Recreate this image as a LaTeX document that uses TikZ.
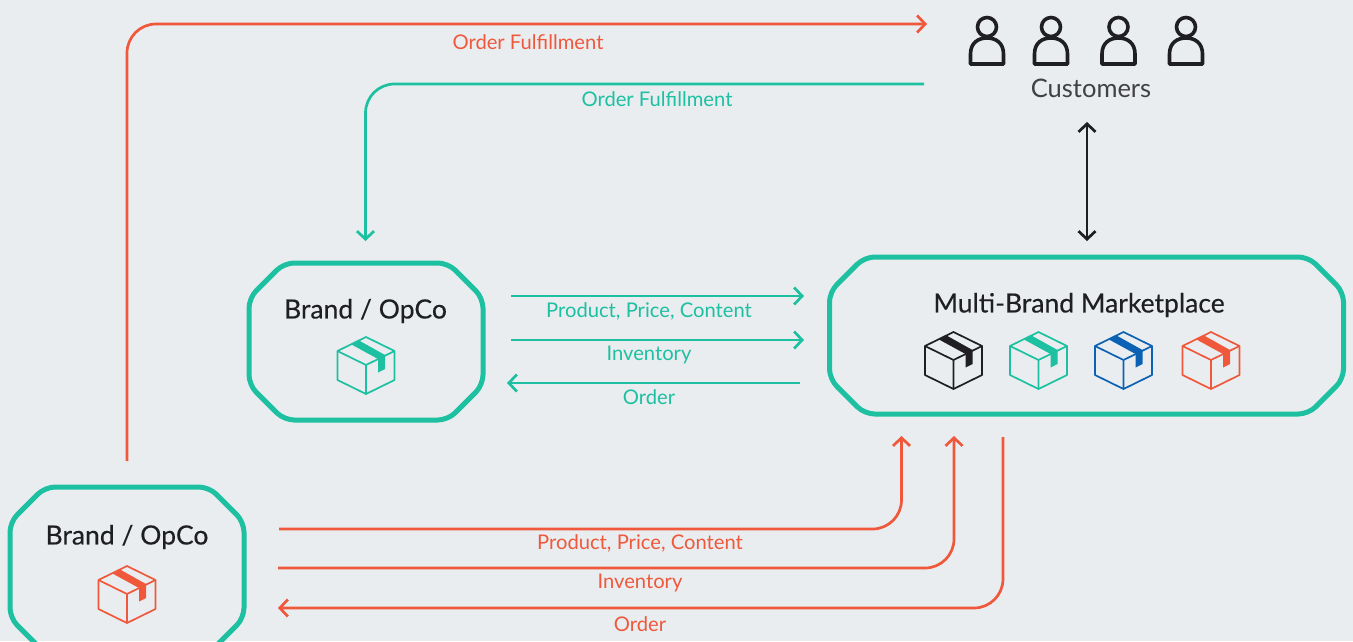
\documentclass[tikz,border=0pt]{standalone}
\usepackage{fontspec}
\setmainfont{Lato}
\newfontfamily\titlefont[FakeBold=0.3]{Lato}
\usetikzlibrary{arrows.meta,calc}

\definecolor{pagegrey}{HTML}{E9EDF0}
\definecolor{brandteal}{HTML}{1DC0A0}
\definecolor{brandred}{HTML}{F0583C}
\definecolor{brandblue}{HTML}{0B62B4}
\definecolor{brandblack}{HTML}{1F1F23}

\tikzset{
	opentip/.tip={Straight Barb[length=8pt,width=17pt,line width=2.7pt]},
	flow/.style={line width=2.7pt,rounded corners=29pt,-{opentip}},
	flowlabel/.style={font=\fontsize{20.2}{24}\selectfont,inner sep=0pt,anchor=center},
	panel/.style={rectangle,outer sep=0pt,inner sep=0pt},
	paneloutline/.style={draw=brandteal,line width=5pt,rounded corners=10pt},
	paneltitle/.style={font=\titlefont\fontsize{26.5}{32}\selectfont,text=brandblack,inner sep=0pt,anchor=center},
}

\begin{document}
\begin{tikzpicture}[x=1pt,y=-1pt]
	\useasboundingbox[fill=pagegrey] (0,0) rectangle (1353,641);

	% panels
	\node[panel,minimum width=234pt,minimum height=157pt] (brandone) at (366,341.5) {};
	\node[panel,minimum width=234pt,minimum height=166pt] (brandtwo) at (127,570) {};
	\node[panel,minimum width=514pt,minimum height=157pt] (market) at (1086.5,335.5) {};

	\foreach \n in {brandone,brandtwo,market}{
		\draw[paneloutline] ($(\n.north west)+(35,0)$) -- ($(\n.north east)+(-35,0)$) -- ($(\n.north east)+(0,35)$) -- ($(\n.south east)+(0,-35)$) -- ($(\n.south east)+(-35,0)$) -- ($(\n.south west)+(35,0)$) -- ($(\n.south west)+(0,-35)$) -- ($(\n.north west)+(0,35)$) -- cycle;
	}

	\node[paneltitle] (brandonetitle) at (365.5,311) {Brand / OpCo};
	\node[paneltitle] (brandtwotitle) at (127,537) {Brand / OpCo};
	\node[paneltitle] (markettitle) at (1079,305) {Multi-Brand Marketplace};

	% parcels
	\foreach \x/\y/\c in {953.5/332/brandblack,1038.5/332/brandteal,1123.5/332/brandblue,1211/332/brandred,366/337/brandteal,127/566/brandred}{
		\begin{scope}[shift={(\x,\y)}]
			\draw[\c,line width=1.7pt,line join=round] (0,0) -- (28.5,14) -- (28.5,43) -- (0,57) -- (-28.5,43) -- (-28.5,14) -- cycle;
			\draw[\c,line width=1.7pt,line join=round] (-28.5,14) -- (0,28) -- (28.5,14) (0,28) -- (0,57);
			\fill[\c] (-14.5,7.5) -- (-7,3.5) -- (19,18) -- (19,32) -- (12,35.5) -- (12,22) -- cycle;
		\end{scope}
	}

	% customers
	\foreach \x in {987,1051,1118.5,1186}{
		\draw[brandblack,line width=3.6pt,line join=round] (\x,27) circle (9.5);
		\draw[brandblack,line width=3.6pt,line join=round] (\x-16.5,64) -- (\x-16.5,54) .. controls (\x-16.5,43) and (\x-9,38) .. (\x,38) .. controls (\x+9,38) and (\x+16.5,43) .. (\x+16.5,54) -- (\x+16.5,64) -- cycle;
	}
	\node[flowlabel,font=\fontsize{25.5}{30}\selectfont,text=brandblack!85] (customers) at (1091,88.5) {Customers};

	% flow ends
	\coordinate (redfulfilfrom) at (127,461);
	\coordinate (redfulfilto) at (927,24);
	\coordinate (tealfulfilfrom) at (924,84);
	\coordinate (tealfulfilto) at (365.5,241);
	\coordinate (customersend) at (1087,122);
	\coordinate (marketend) at (1087,241);
	\coordinate (tealproductfrom) at (511,296);
	\coordinate (tealproductto) at (804,296);
	\coordinate (tealstockfrom) at (511,340);
	\coordinate (tealstockto) at (804,340);
	\coordinate (tealorderfrom) at (800,383);
	\coordinate (tealorderto) at (507,383);
	\coordinate (redproductfrom) at (279,529);
	\coordinate (redproductto) at (901.5,436);
	\coordinate (redstockfrom) at (278,568);
	\coordinate (redstockto) at (954,436);
	\coordinate (redorderfrom) at (1003,437);
	\coordinate (redorderto) at (278,608);

	% flows
	\draw[flow,brandred] (redfulfilfrom) |- (redfulfilto);
	\draw[flow,brandteal] (tealfulfilfrom) -| (tealfulfilto);
	\draw[brandblack,line width=2.7pt,{opentip}-{opentip}] (customersend) -- (marketend);
	\draw[flow,brandteal] (tealproductfrom) -- (tealproductto);
	\draw[flow,brandteal] (tealstockfrom) -- (tealstockto);
	\draw[flow,brandteal] (tealorderfrom) -- (tealorderto);
	\draw[flow,brandred] (redproductfrom) -| (redproductto);
	\draw[flow,brandred] (redstockfrom) -| (redstockto);
	\draw[flow,brandred] (redorderfrom) |- (redorderto);

	% labels
	\node[flowlabel,text=brandred] (redfulfillabel) at (528,42) {Order Fulfillment};
	\node[flowlabel,text=brandteal] (tealfulfillabel) at (657,99) {Order Fulfillment};
	\node[flowlabel,text=brandteal] (tealproductlabel) at (649,311) {Product, Price, Content};
	\node[flowlabel,text=brandteal] (tealstocklabel) at (649,355) {Inventory};
	\node[flowlabel,text=brandteal] (tealorderlabel) at (649,397.5) {Order};
	\node[flowlabel,text=brandred] (redproductlabel) at (640,543) {Product, Price, Content};
	\node[flowlabel,text=brandred] (redstocklabel) at (640,583) {Inventory};
	\node[flowlabel,text=brandred] (redorderlabel) at (640,624.5) {Order};
\end{tikzpicture}
\end{document}
